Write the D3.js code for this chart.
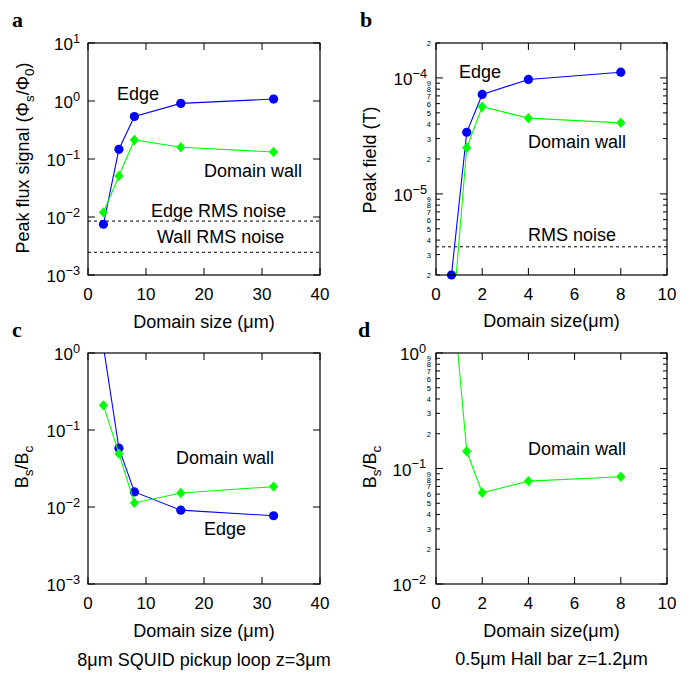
<!DOCTYPE html>
<html><head><meta charset="utf-8">
<script src="https://cdn.jsdelivr.net/npm/d3@7"></script>
<style>body{margin:0;background:#fff}</style>
</head><body>
<svg id="chart" width="693" height="673"></svg>
<script>
// ---------- data ----------
const sizeSquid = [2.67, 5.33, 8, 16, 32];          // panels a, c (µm)
const fluxEdge  = [0.0075, 0.147, 0.54, 0.91, 1.08];
const fluxWall  = [0.012, 0.051, 0.213, 0.159, 0.132];
const fluxNoiseEdge = 0.0085;
const fluxNoiseWall = 0.00246;

const sizeHall  = [0.67, 1.33, 2, 4, 8];              // panels b, d (µm)
const fieldEdge = [2.0e-6, 3.4e-5, 7.2e-5, 9.7e-5, 1.12e-4];
const fieldWall = [6.3e-7, 2.5e-5, 5.65e-5, 4.5e-5, 4.1e-5];
const fieldNoise = 3.5e-6;

const ratioEdgeC = [1.2, 0.058, 0.0157, 0.0091, 0.0077];
const ratioWallC = [0.209, 0.0493, 0.0113, 0.0152, 0.0184];
const ratioWallD = [4.2, 0.141, 0.0617, 0.0778, 0.0848];

const xTicksSquid = [0, 10, 20, 30, 40];
const xTicksHall  = [0, 2, 4, 6, 8, 10];
const decadesA = [-3, -2, -1, 0, 1];
const decadesB = [-5, -4];
const decadesC = [-3, -2, -1, 0];
const decadesD = [-2, -1, 0];
const minorDigits = [2, 3, 4, 5, 6, 7, 8, 9];

const BLUE = "#0000ff", GREEN = "#00ff00";
const FONT = "'Liberation Sans', Arial, Helvetica, sans-serif";

const svg = d3.select("#chart");
let clipId = 0;

function rich(sel, parts, size) {
  let shift = 0;
  parts.forEach(([t, type]) => {
    const ts = sel.append("tspan").text(t);
    let target = 0, fs = size;
    if (type === "sup") { target = -size * 0.42; fs = size * 0.75; }
    if (type === "sub") { target = size * 0.28; fs = size * 0.75; }
    ts.attr("dy", target - shift).attr("font-size", fs);
    shift = target;
  });
}

function panel(cfg) {
  const g = svg.append("g").attr("font-family", FONT);
  const x = d3.scaleLinear().domain(cfg.xDomain).range([cfg.left, cfg.right]);
  const y = d3.scaleLog().domain(cfg.yDomain).range([cfg.bottom, cfg.top]);
  const id = "clip" + (clipId++);
  svg.append("clipPath").attr("id", id).append("rect")
    .attr("x", cfg.left).attr("y", cfg.top)
    .attr("width", cfg.right - cfg.left).attr("height", cfg.bottom - cfg.top);

  cfg.xTicks.forEach(v => {
    const px = x(v);
    g.append("line").attr("x1", px).attr("x2", px).attr("y1", cfg.bottom).attr("y2", cfg.bottom - 7).attr("stroke", "#000");
    g.append("line").attr("x1", px).attr("x2", px).attr("y1", cfg.top).attr("y2", cfg.top + 7).attr("stroke", "#000");
    g.append("text").attr("x", px).attr("y", cfg.bottom + 25).attr("text-anchor", "middle")
      .attr("font-size", 17).text(v);
  });

  cfg.decades.forEach(e => {
    const py = y(Math.pow(10, e));
    g.append("line").attr("x1", cfg.left).attr("x2", cfg.left + 7).attr("y1", py).attr("y2", py).attr("stroke", "#000");
    g.append("line").attr("x1", cfg.right).attr("x2", cfg.right - 7).attr("y1", py).attr("y2", py).attr("stroke", "#000");
    const t = g.append("text").attr("x", cfg.left - cfg.labelGap).attr("y", py + 7)
      .attr("text-anchor", "end").attr("font-size", 17);
    rich(t, [["10", ""], [e < 0 ? "\u2212" + (-e) : String(e), "sup"]], 17);
  });

  if (cfg.minor) {
    const lo = Math.floor(Math.log10(cfg.yDomain[0])), hi = Math.ceil(Math.log10(cfg.yDomain[1]));
    for (let e = lo; e < hi; e++) {
      minorDigits.forEach(k => {
        const v = k * Math.pow(10, e);
        if (v < cfg.yDomain[0] * 0.999 || v > cfg.yDomain[1] * 1.001) return;
        const py = y(v);
        g.append("line").attr("x1", cfg.left).attr("x2", cfg.left + 4).attr("y1", py).attr("y2", py).attr("stroke", "#000");
        g.append("line").attr("x1", cfg.right).attr("x2", cfg.right - 4).attr("y1", py).attr("y2", py).attr("stroke", "#000");
        g.append("text").attr("x", cfg.left - 5).attr("y", py + 3).attr("text-anchor", "end")
          .attr("font-size", 7.5).text(k);
      });
    }
  }

  (cfg.hlines || []).forEach(v => {
    g.append("line").attr("x1", cfg.left).attr("x2", cfg.right).attr("y1", y(v)).attr("y2", y(v))
      .attr("stroke", "#000").attr("stroke-dasharray", "3,3").attr("stroke-width", 1);
  });

  cfg.series.forEach(s => {
    const pts = s.x.map((xv, i) => [xv, s.y[i]]);
    g.append("path").attr("clip-path", `url(#${id})`)
      .attr("d", d3.line().x(d => x(d[0])).y(d => y(d[1]))(pts))
      .attr("fill", "none").attr("stroke", s.color).attr("stroke-width", 1.1);
    pts.forEach(d => {
      if (d[1] < cfg.yDomain[0] * 0.999 || d[1] > cfg.yDomain[1] * 1.001) return;
      const px = x(d[0]), py = y(d[1]);
      if (s.marker === "circle") {
        g.append("circle").attr("cx", px).attr("cy", py).attr("r", 4.6).attr("fill", s.color);
      } else {
        g.append("path").attr("d", `M${px},${py - 5.2}L${px + 4.6},${py}L${px},${py + 5.2}L${px - 4.6},${py}Z`)
          .attr("fill", s.color);
      }
    });
  });

  g.append("rect").attr("x", cfg.left).attr("y", cfg.top)
    .attr("width", cfg.right - cfg.left).attr("height", cfg.bottom - cfg.top)
    .attr("fill", "none").attr("stroke", "#000").attr("stroke-width", 1.2);

  cfg.texts.forEach(([t, tx, ty]) => {
    g.append("text").attr("x", tx).attr("y", ty).attr("font-size", 18).text(t);
  });

  const yl = g.append("text").attr("transform", `translate(${cfg.ylabelPos[0]},${cfg.ylabelPos[1]}) rotate(-90)`)
    .attr("text-anchor", "middle").attr("font-size", 18);
  rich(yl, cfg.ylabel, 18);

  g.append("text").attr("x", (cfg.left + cfg.right) / 2).attr("y", cfg.xlabelY)
    .attr("text-anchor", "middle").attr("font-size", 18).text(cfg.xlabel);
  if (cfg.caption) {
    g.append("text").attr("x", (cfg.left + cfg.right) / 2).attr("y", cfg.captionY)
      .attr("text-anchor", "middle").attr("font-size", 18).text(cfg.caption);
  }

  g.append("text").attr("x", cfg.letterPos[0]).attr("y", cfg.letterPos[1])
    .attr("font-family", "'Liberation Serif', 'Times New Roman', serif")
    .attr("font-weight", "bold").attr("font-size", 22).text(cfg.letter);
}

panel({
  letter: "a", letterPos: [12, 27],
  left: 88, right: 320, top: 43, bottom: 275,
  xDomain: [0, 40], xTicks: xTicksSquid,
  yDomain: [1e-3, 1e1], decades: decadesA, labelGap: 8, minor: false,
  hlines: [fluxNoiseEdge, fluxNoiseWall],
  series: [
    { x: sizeSquid, y: fluxEdge, color: BLUE, marker: "circle" },
    { x: sizeSquid, y: fluxWall, color: GREEN, marker: "diamond" }
  ],
  texts: [["Edge", 117, 100], ["Domain wall", 204, 177], ["Edge RMS noise", 151, 217], ["Wall RMS noise", 157, 243]],
  ylabel: [["Peak flux signal (\u03A6", ""], ["s", "sub"], ["/\u03A6", ""], ["0", "sub"], [")", ""]],
  ylabelPos: [29, 158],
  xlabel: "Domain size (\u03BCm)", xlabelY: 328
});

panel({
  letter: "b", letterPos: [360, 27],
  left: 436, right: 667, top: 43, bottom: 275,
  xDomain: [0, 10], xTicks: xTicksHall,
  yDomain: [2e-6, 2e-4], decades: decadesB, labelGap: 9, minor: true,
  hlines: [fieldNoise],
  series: [
    { x: sizeHall, y: fieldEdge, color: BLUE, marker: "circle" },
    { x: sizeHall, y: fieldWall, color: GREEN, marker: "diamond" }
  ],
  texts: [["Edge", 459, 78], ["Domain wall", 528, 148], ["RMS noise", 528, 241]],
  ylabel: [["Peak field (T)", ""]],
  ylabelPos: [376, 160],
  xlabel: "Domain size(\u03BCm)", xlabelY: 327
});

panel({
  letter: "c", letterPos: [12, 337],
  left: 88, right: 320, top: 353, bottom: 584,
  xDomain: [0, 40], xTicks: xTicksSquid,
  yDomain: [1e-3, 1e0], decades: decadesC, labelGap: 8, minor: false,
  series: [
    { x: sizeSquid, y: ratioEdgeC, color: BLUE, marker: "circle" },
    { x: sizeSquid, y: ratioWallC, color: GREEN, marker: "diamond" }
  ],
  texts: [["Domain wall", 176, 464], ["Edge", 204, 535]],
  ylabel: [["B", ""], ["s", "sub"], ["/B", ""], ["c", "sub"]],
  ylabelPos: [28, 467],
  xlabel: "Domain size (\u03BCm)", xlabelY: 637,
  caption: "8\u03BCm SQUID pickup loop z=3\u03BCm", captionY: 666
});

panel({
  letter: "d", letterPos: [358, 337],
  left: 436, right: 667, top: 353, bottom: 584,
  xDomain: [0, 10], xTicks: xTicksHall,
  yDomain: [1e-2, 1e0], decades: decadesD, labelGap: 10, minor: true,
  series: [
    { x: sizeHall, y: ratioWallD, color: GREEN, marker: "diamond" }
  ],
  texts: [["Domain wall", 528, 455]],
  ylabel: [["B", ""], ["s", "sub"], ["/B", ""], ["c", "sub"]],
  ylabelPos: [376, 467],
  xlabel: "Domain size(\u03BCm)", xlabelY: 637,
  caption: "0.5\u03BCm Hall bar z=1.2\u03BCm", captionY: 665
});
</script>
</body></html>
